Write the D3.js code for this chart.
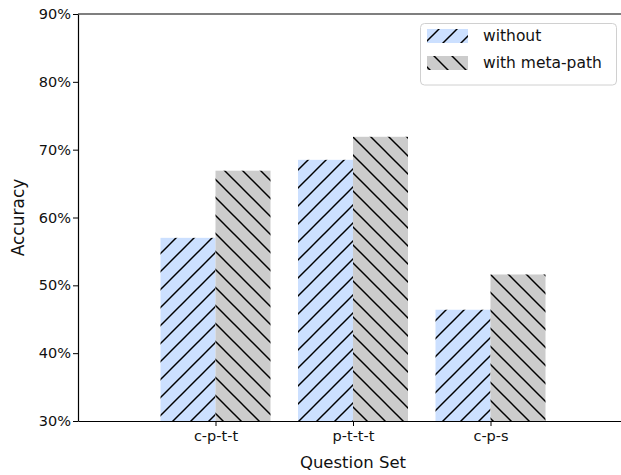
<!DOCTYPE html>
<html>
<head>
<meta charset="utf-8">
<script src="https://cdn.jsdelivr.net/npm/d3@7"></script>
<style>
  html, body { margin: 0; padding: 0; background: #fff; }
  svg { display: block; }
</style>
</head>
<body>
<svg id="chart" width="621" height="475"></svg>
<script>
// Question sets and accuracy (%) for each model variant
const categories = ["c-p-t-t", "p-t-t-t", "c-p-s"];
const seriesNames = ["without", "with meta-path"];
const withoutValues = [57.0, 68.5, 46.4];
const withMetaPathValues = [66.9, 71.9, 51.6];
const yTicks = [30, 40, 50, 60, 70, 80, 90];

const fills = ["#cce0ff", "#cccccc"];
const hatchIds = ["hatch-fwd", "hatch-back"];

const svg = d3.select("#chart");
const W = 621, H = 475;
const mLeft = 78, mTop = 14, mBottom = 421, mRight = 628;

const x = d3.scaleLinear().domain([-1, 3]).range([mLeft, mRight]);
const y = d3.scaleLinear().domain([30, 90]).range([mBottom, mTop]);
const barW = 55;

// Hatch patterns: "/" over light blue, "\" over grey
const defs = svg.append("defs");
const step = 18;
hatchIds.forEach((id, i) => {
  const p = defs.append("pattern")
    .attr("id", id)
    .attr("patternUnits", "userSpaceOnUse")
    .attr("width", step).attr("height", step);
  p.append("rect").attr("width", step).attr("height", step).attr("fill", fills[i]);
  const segs = i === 0
    ? [[0, step, step, 0], [-step / 2, step / 2, step / 2, -step / 2], [step / 2, step * 1.5, step * 1.5, step / 2]]
    : [[0, 0, step, step], [-step / 2, step / 2, step / 2, step * 1.5], [step / 2, -step / 2, step * 1.5, step / 2]];
  segs.forEach(s => p.append("line")
    .attr("x1", s[0]).attr("y1", s[1]).attr("x2", s[2]).attr("y2", s[3])
    .attr("stroke", "#000").attr("stroke-width", 1.5));
});

const series = [withoutValues, withMetaPathValues];

// Bars
series.forEach((vals, si) => {
  svg.append("g").selectAll("rect")
    .data(vals)
    .join("rect")
    .attr("x", (d, i) => x(i) - barW + si * barW)
    .attr("y", d => y(d))
    .attr("width", barW)
    .attr("height", d => y(30) - y(d))
    .attr("fill", `url(#${hatchIds[si]})`);
});

// Y axis
const yAxis = d3.axisLeft(y).tickValues(yTicks).tickFormat(d => d + "%").tickSize(5).tickSizeOuter(0);
const gy = svg.append("g").attr("transform", `translate(${mLeft},0)`).call(yAxis);
gy.select(".domain").attr("stroke", "#000").attr("stroke-width", 1.2);
gy.selectAll(".tick line").attr("stroke", "#000").attr("stroke-width", 1);
gy.selectAll(".tick text")
  .attr("font-family", "DejaVu Sans").attr("font-size", 14.5).attr("fill", "#111").attr("x", -7);

// X axis
const xAxis = d3.axisBottom(x).tickValues(d3.range(categories.length))
  .tickFormat(i => categories[i]).tickSize(5).tickSizeOuter(0);
const gx = svg.append("g").attr("transform", `translate(0,${mBottom})`).call(xAxis);
gx.select(".domain").attr("stroke", "#000").attr("stroke-width", 1.2);
gx.selectAll(".tick line").attr("stroke", "#000").attr("stroke-width", 1);
gx.selectAll(".tick text")
  .attr("font-family", "DejaVu Sans").attr("font-size", 14.5).attr("fill", "#111").attr("y", 10);

// Top spine
svg.append("line").attr("x1", mLeft).attr("x2", W).attr("y1", mTop).attr("y2", mTop)
  .attr("stroke", "#000").attr("stroke-width", 1.2);

// Axis titles
svg.append("text").attr("x", (mLeft + mRight) / 2).attr("y", 468)
  .attr("text-anchor", "middle").attr("font-family", "DejaVu Sans").attr("font-size", 16.5)
  .attr("fill", "#111").text("Question Set");
svg.append("text")
  .attr("transform", `translate(24,${(mTop + mBottom) / 2}) rotate(-90)`)
  .attr("text-anchor", "middle").attr("font-family", "DejaVu Sans").attr("font-size", 17)
  .attr("fill", "#111").text("Accuracy");

// Legend
const lg = svg.append("g");
lg.append("rect").attr("x", 420.5).attr("y", 23.5).attr("width", 196).attr("height", 61.5)
  .attr("rx", 4).attr("fill", "#fff").attr("fill-opacity", 0.8)
  .attr("stroke", "#d0d0d0").attr("stroke-width", 1);
seriesNames.forEach((name, i) => {
  const yy = 29 + i * 27;
  lg.append("rect").attr("x", 427).attr("y", yy).attr("width", 41).attr("height", 14)
    .attr("fill", `url(#${hatchIds[i]})`);
  lg.append("text").attr("x", 483).attr("y", yy + 12)
    .attr("font-family", "DejaVu Sans").attr("font-size", 15.5).attr("fill", "#111").text(name);
});
</script>
</body>
</html>
